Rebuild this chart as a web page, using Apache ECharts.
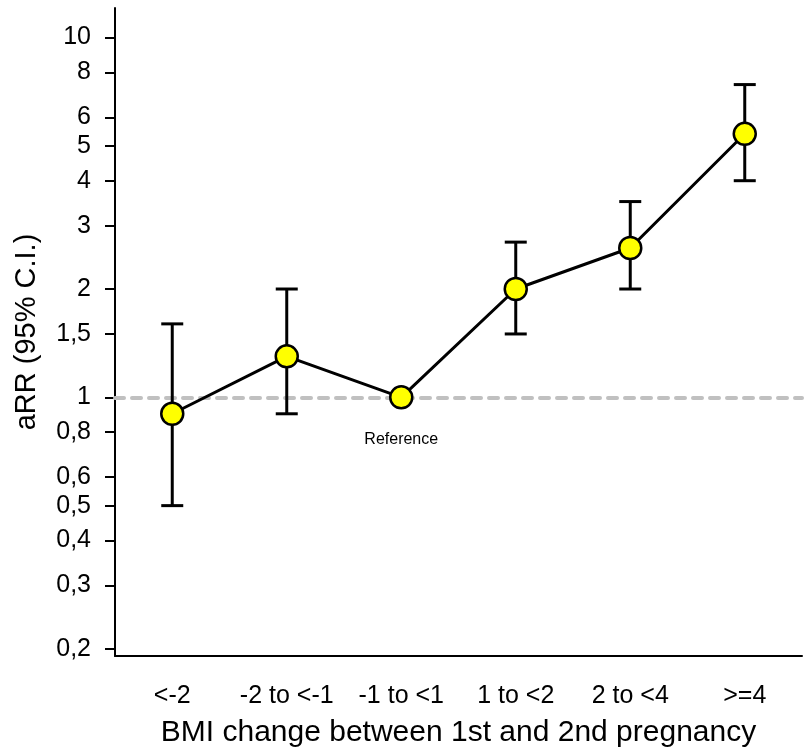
<!DOCTYPE html>
<html>
<head>
<meta charset="utf-8">
<script src="https://cdn.jsdelivr.net/npm/echarts@6/dist/echarts.min.js"></script>
<style>
  html, body { margin: 0; padding: 0; background: #fff; }
  #chart { width: 808px; height: 753px; }
</style>
</head>
<body>
<div id="chart"></div>
<script>
// categories and values
const categories = ["<-2", "-2 to <-1", "-1 to <1", "1 to <2", "2 to <4", ">=4"];
const arr = [0.9, 1.3, 1.0, 2.0, 2.6, 5.4];
const ciLow = [0.5, 0.9, null, 1.5, 2.0, 4.0];
const ciHigh = [1.6, 2.0, null, 2.7, 3.5, 7.4];
const notes = ["", "", "Reference", "", "", ""];
const yTicks = [0.2, 0.3, 0.4, 0.5, 0.6, 0.8, 1, 1.5, 2, 3, 4, 5, 6, 8, 10];

const FONT = "Liberation Sans, Arial, sans-serif";
const fmt = v => String(v).replace(".", ",");

const chart = echarts.init(document.getElementById("chart"));

chart.setOption({
  animation: false,
  backgroundColor: "#fff",
  grid: { left: 115, right: 6, top: 8, bottom: 97, containLabel: false, outerBoundsMode: "none" },
  xAxis: {
    type: "category",
    data: categories,
    boundaryGap: true,
    axisLine: { lineStyle: { color: "#000", width: 2 } },
    axisTick: { alignWithLabel: true, length: 10, lineStyle: { color: "#000", width: 2 } },
    axisLabel: { color: "#000", fontFamily: FONT, fontSize: 25, margin: 28, interval: 0 },
    name: "BMI change between 1st and 2nd pregnancy",
    nameLocation: "middle",
    nameGap: 62,
    nameTextStyle: { color: "#000", fontFamily: FONT, fontSize: 30 },
    splitLine: { show: false },
  },
  yAxis: {
    type: "log",
    logBase: 10,
    min: 0.191,
    max: 12.08,
    axisLine: { show: true, lineStyle: { color: "#000", width: 2 } },
    axisTick: { show: true, length: 10, customValues: yTicks, lineStyle: { color: "#000", width: 2 } },
    axisLabel: { color: "#000", fontFamily: FONT, fontSize: 25, margin: 24, customValues: yTicks, formatter: v => fmt(v) },
    splitLine: { show: false },
    minorTick: { show: false },
    name: "aRR (95% C.I.)",
    nameLocation: "middle",
    nameGap: 74,
    nameRotate: 90,
    nameTextStyle: { color: "#000", fontFamily: FONT, fontSize: 29 },
  },
  series: [
    {
      // error bars
      type: "custom",
      z: 3,
      data: categories.map((c, i) => [i, ciLow[i], ciHigh[i]]).filter(d => d[1] != null),
      renderItem: (params, api) => {
        const x = api.value(0);
        const lo = api.coord([x, api.value(1)]);
        const hi = api.coord([x, api.value(2)]);
        const hw = 11;
        const style = { stroke: "#000", lineWidth: 3 };
        return {
          type: "group",
          children: [
            { type: "line", shape: { x1: lo[0], y1: lo[1], x2: hi[0], y2: hi[1] }, style },
            { type: "line", shape: { x1: lo[0] - hw, y1: lo[1], x2: lo[0] + hw, y2: lo[1] }, style },
            { type: "line", shape: { x1: hi[0] - hw, y1: hi[1], x2: hi[0] + hw, y2: hi[1] }, style },
          ],
        };
      },
    },
    {
      type: "line",
      z: 4,
      data: arr.map((v, i) => ({
        value: v,
        label: notes[i]
          ? { show: true, formatter: notes[i], position: "bottom", distance: 22, color: "#000", fontFamily: FONT, fontSize: 16 }
          : { show: false },
      })),
      symbol: "circle",
      symbolSize: 22,
      lineStyle: { color: "#000", width: 3 },
      itemStyle: { color: "#ffff00", borderColor: "#000", borderWidth: 2.5 },
      markLine: {
        silent: true,
        symbol: "none",
        z: 1,
        label: { show: false },
        lineStyle: { color: "#c0c0c0", width: 4, type: [9, 8], cap: "round" },
        data: [{ yAxis: 1 }],
      },
    },
  ],
});
</script>
</body>
</html>
